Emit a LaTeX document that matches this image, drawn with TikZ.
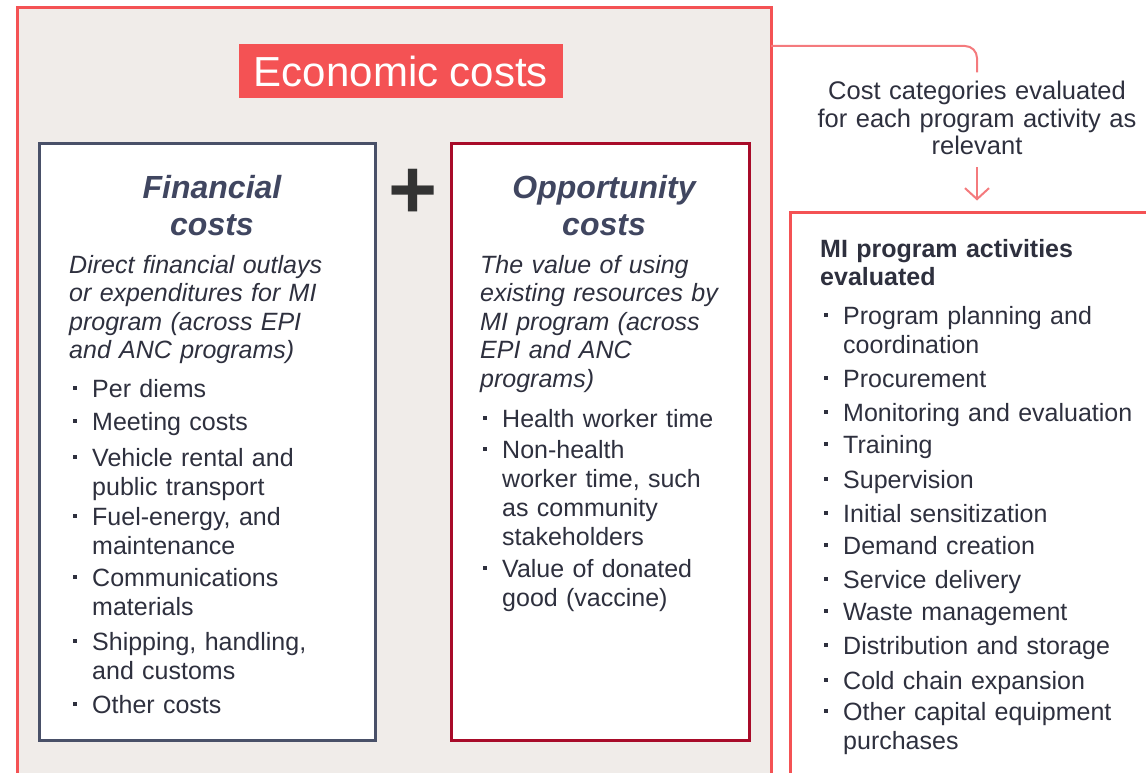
\documentclass[tikz,border=0pt]{standalone}
\usepackage{fontspec}
\setmainfont{Liberation Sans}
\usetikzlibrary{arrows.meta,calc}
\definecolor{ecored}{HTML}{F45254}
\definecolor{ecofill}{HTML}{F0ECE9}
\definecolor{finslate}{HTML}{495068}
\definecolor{oppred}{HTML}{A80B29}
\definecolor{inkgray}{HTML}{2E303E}
\definecolor{headgray}{HTML}{404660}
\definecolor{plusgray}{HTML}{333333}
\definecolor{linkpink}{HTML}{F47A7D}
\begin{document}
\begin{tikzpicture}[x=1pt, y=-1pt,
    frame/.style={line width=3pt, outer sep=0pt, inner sep=0pt, anchor=north west},
    txt/.style={text=inkgray, inner sep=0pt, align=left, anchor=base west, font=\fontsize{25}{29}\selectfont},
    desc/.style={txt, font=\fontsize{25}{28.5}\selectfont\itshape},
    head/.style={text=headgray, inner sep=0pt, align=center, anchor=base, text width=300pt, font=\fontsize{32}{37.5}\selectfont\bfseries\itshape},
    bul/.style={fill=inkgray, minimum size=4pt, inner sep=0pt},
    conn/.style={draw=linkpink, line width=2pt}]
    \useasboundingbox (0,0) rectangle (1146,773);

    % Economic costs
    \node[frame, draw=ecored, fill=ecofill, minimum width=753.5pt, minimum height=800pt] (econ) at (17.5,7.5) {};
    \node[fill=ecored, text=white, inner sep=0pt, minimum width=324pt, minimum height=54pt, font=\fontsize{42}{42}\selectfont] (title) at (401,71) {Economic costs};

    % Financial costs
    \node[frame, draw=finslate, fill=white, minimum width=336pt, minimum height=596.5pt] (fin) at (39.5,144) {};
    \node[head] (finhead) at (212,198) {Financial\\costs};
    \node[desc, text width=290pt] (findesc) at (69,273) {Direct financial outlays\\or expenditures for MI\\program (across EPI\\and ANC programs)};
    \foreach \y/\t [count=\i] in {397/Per diems, 430/Meeting costs, 466/{Vehicle rental and\\public transport}, 525/{Fuel-energy, and\\maintenance}, 586/{Communications\\materials}, 650/{Shipping, handling,\\and customs}, 713/Other costs}{
        \node[txt, text width=270pt] (fin\i) at (92,\y) {\t};
        \node[bul] at (75,\y-9) {};
    }

    \node[text=plusgray, inner sep=0pt, font=\fontsize{84}{84}\selectfont\bfseries] (plus) at (413,194) {+};

    % Opportunity costs
    \node[frame, draw=oppred, fill=white, minimum width=298.5pt, minimum height=596.5pt] (opp) at (451,144) {};
    \node[head] (opphead) at (604,198) {Opportunity\\costs};
    \node[desc, text width=260pt] (oppdesc) at (480,273) {The value of using\\existing resources by\\MI program (across\\EPI and ANC\\programs)};
    \foreach \y/\t [count=\i] in {427/Health worker time, 458/{Non-health\\worker time, such\\as community\\stakeholders}, 577/{Value of donated\\good (vaccine)}}{
        \node[txt, text width=240pt] (opp\i) at (502,\y) {\t};
        \node[bul] at (484.5,\y-9) {};
    }

    % MI program activities
    \node[frame, draw=ecored, fill=white, minimum width=400pt, minimum height=600pt] (mibox) at (790.5,212.5) {};
    \node[txt, text width=320pt, font=\fontsize{25}{28}\selectfont\bfseries] (mihead) at (820,257) {MI program activities\\evaluated};
    \foreach \y/\t [count=\i] in {324/{Program planning and\\coordination}, 387/Procurement, 421/Monitoring and evaluation, 453/Training, 488/Supervision, 522/Initial sensitization, 554/Demand creation, 588/Service delivery, 620/Waste management, 654/Distribution and storage, 689/Cold chain expansion, 720/{Other capital equipment\\purchases}}{
        \node[txt, text width=300pt] (mi\i) at (843,\y) {\t};
        \node[bul] at (826,\y-9) {};
    }

    % link
    \node[text=inkgray, inner sep=3pt, align=center, anchor=base, text width=340pt, font=\fontsize{25.5}{27.5}\selectfont] (note) at (977,100) {Cost categories evaluated\\for each program activity as\\relevant};
    \draw[conn, rounded corners=12pt, shorten >=6pt] ($(econ.north east)+(0,38.5)$) -| (note.north);
    \draw[conn, -{Straight Barb[length=11pt,width=24pt]}, shorten <=9pt, shorten >=12pt] (note.south) -- (note.south |- mibox.north);
\end{tikzpicture}
\end{document}
